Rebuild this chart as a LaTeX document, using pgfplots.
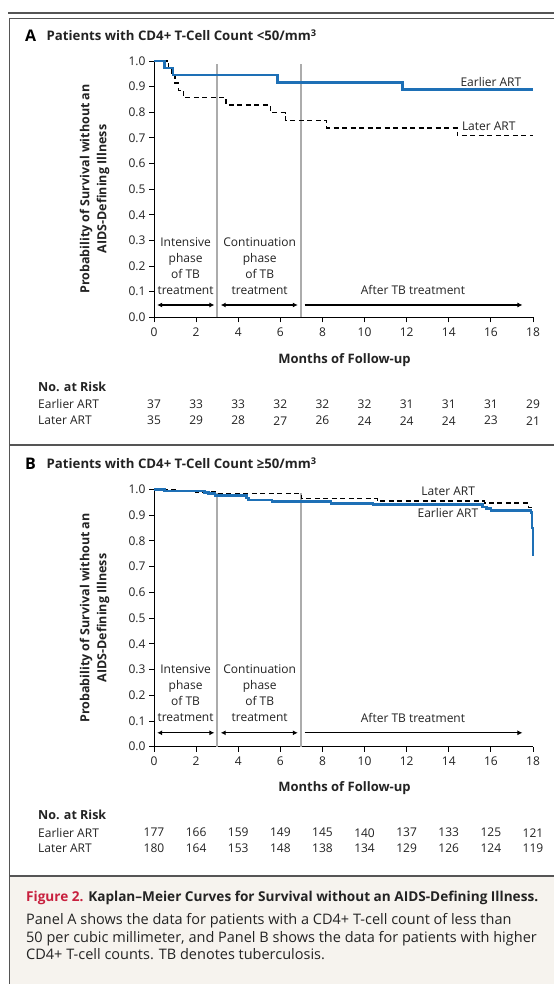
\documentclass[border=0pt]{standalone}
\usepackage{fontspec}
\setmainfont{Open Sans}
\usepackage{pgfplots}
\pgfplotsset{compat=1.18}
\usetikzlibrary{arrows.meta}

\definecolor{artblue}{RGB}{30,112,182}
\definecolor{phasegray}{RGB}{172,172,172}
\definecolor{framegray}{RGB}{85,85,85}
\definecolor{capbg}{RGB}{246,243,238}
\definecolor{capred}{RGB}{200,32,62}
\definecolor{txt}{RGB}{35,35,35}

\newcommand{\fs}[1]{\fontsize{#1}{#1}\selectfont}

\pgfplotsset{
  kmaxis/.style={
    scale only axis, width=379pt,
    xmin=0, xmax=18, ymin=0, ymax=1,
    axis lines=left, axis line style={-, line width=0.9pt},
    xtick={0,2,...,18}, ytick={0,0.1,0.2,0.3,0.4,0.5,0.6,0.7,0.8,0.9,1.0},
    tick align=outside, major tick length=5pt,
    tick style={line width=0.9pt, black},
    ticklabel style={font=\fs{12}, text=txt},
    x tick label style={yshift=-2pt},
    /pgf/number format/assume math mode=true,
    y tick label style={/pgf/number format/.cd, fixed, fixed zerofill, precision=1, /tikz/.cd},
    clip=false,
  },
  earlier/.style={const plot, color=artblue, line width=2.6pt, no marks},
  later/.style={const plot, color=black, line width=1.3pt, dash pattern=on 5pt off 3.5pt, no marks},
  phase/.style={color=phasegray, line width=2pt, no marks},
}
\tikzset{tip/.tip={Latex[length=5pt,width=5pt]}, arr/.style={line width=1.2pt, black}}

\begin{document}
\begin{tikzpicture}
% page and frame
\fill[white] (0,0) rectangle (554pt,-984pt);
\path[use as bounding box] (0,0) rectangle (554pt,-984pt);
\fill[capbg] (9pt,-876pt) rectangle (554pt,-984pt);
\draw[framegray, line width=1.8pt] (8pt,-13.3pt) -- (554pt,-13.3pt);
\draw[framegray, line width=0.8pt] (9pt,-18.3pt) -- (554pt,-18.3pt);
\draw[framegray, line width=1pt] (9pt,-18.3pt) -- (9pt,-984pt);
\draw[framegray, line width=1.5pt] (9pt,-445pt) -- (554pt,-445pt);
\draw[framegray, line width=1.5pt] (9pt,-876pt) -- (554pt,-876pt);

% ---------- Panel A ----------
\node[anchor=base west, inner sep=0, font=\bfseries\fs{16}, text=black] at (25pt,-41.5pt) {A};
\node[anchor=base west, inner sep=0, font=\bfseries\fs{13.2}, text=txt] at (46.5pt,-40.7pt) {Patients with CD4+ T-Cell Count <50/mm\textsuperscript{3}};
\node[rotate=90, align=center, font=\bfseries\fontsize{12.5}{17}\selectfont, text=txt] at (94.5pt,-189pt) {Probability of Survival without an\\AIDS-Defining Illness};

\begin{axis}[kmaxis, height=256.3pt, at={(154pt,-317.3pt)}, anchor=south west]
\addplot[phase] coordinates {(3,0) (3,0.99)};
\addplot[phase] coordinates {(7,0) (7,0.99)};
\addplot[later] coordinates {
  (0,1.0) (0.7,0.971) (0.85,0.943) (1.0,0.914) (1.15,0.886) (1.4,0.857)
  (3.42,0.828) (5.52,0.798) (6.25,0.769) (8.2,0.739) (14.4,0.709) (18,0.709)};
\addplot[earlier] coordinates {
  (0,1.0) (0.5,0.973) (0.9,0.946) (5.86,0.917) (11.8,0.888) (18,0.888)};
\node[font=\fs{12}, text=txt] at (axis cs:16.0,0.92) {Earlier ART};
\node[font=\fs{12}, text=txt] at (axis cs:15.9,0.745) {Later ART};
\node[align=center, font=\fontsize{12}{16}\selectfont, text=txt] at (axis cs:1.5,0.2) {Intensive\\phase\\of TB\\treatment};
\node[align=center, font=\fontsize{12}{16}\selectfont, text=txt] at (axis cs:5.02,0.2) {Continuation\\phase\\of TB\\treatment};
\node[font=\fs{12}, text=txt] at (axis cs:12.3,0.107) {After TB treatment};
\draw[arr, tip-tip] (axis cs:0.15,0.048) -- (axis cs:2.87,0.048);
\draw[arr, tip-tip] (axis cs:3.17,0.048) -- (axis cs:6.83,0.048);
\draw[arr, -tip] (axis cs:7.15,0.048) -- (axis cs:17.5,0.048);
\end{axis}

\node[font=\bfseries\fs{13}, text=txt] at (344.5pt,-360pt) {Months of Follow-up};
\node[anchor=west, inner sep=0, font=\bfseries\fs{12.5}, text=txt] at (38pt,-386.7pt) {No. at Risk};
\node[anchor=west, inner sep=0, font=\fs{12}, text=txt] at (38pt,-404.3pt) {Earlier ART};
\node[anchor=west, inner sep=0, font=\fs{12}, text=txt] at (38pt,-420.7pt) {Later ART};
\foreach \n [count=\i from 0] in {37,33,33,32,32,32,31,31,31,29}
  \node[font=\fs{12}, text=txt] at ({154pt+\i*42.11pt},-404.3pt) {\n};
\foreach \n [count=\i from 0] in {35,29,28,27,26,24,24,24,23,21}
  \node[font=\fs{12}, text=txt] at ({154pt+\i*42.11pt},-420.7pt) {\n};

% ---------- Panel B ----------
\node[anchor=base west, inner sep=0, font=\bfseries\fs{16}, text=black] at (25pt,-469.5pt) {B};
\node[anchor=base west, inner sep=0, font=\bfseries\fs{13.2}, text=txt] at (46.5pt,-468.7pt) {Patients with CD4+ T-Cell Count ≥50/mm\textsuperscript{3}};
\node[rotate=90, align=center, font=\bfseries\fontsize{12.5}{17}\selectfont, text=txt] at (94.5pt,-618pt) {Probability of Survival without an\\AIDS-Defining Illness};

\begin{axis}[kmaxis, height=257.4pt, at={(154pt,-746.7pt)}, anchor=south west]
\addplot[phase] coordinates {(3,0) (3,0.985)};
\addplot[phase] coordinates {(7,0) (7,0.985)};
\addplot[later] coordinates {
  (0,1.0) (1.0,0.994) (2.0,0.989) (3.0,0.984) (7.0,0.965) (10.6,0.955)
  (15.7,0.947) (17.8,0.93) (17.9,0.91) (18,0.91)};
\addplot[earlier] coordinates {
  (0,1.0) (0.5,0.994) (2.4,0.988) (2.6,0.983) (2.9,0.977) (4.4,0.966)
  (4.5,0.958) (5.6,0.952) (8.4,0.946) (10.4,0.940) (15.6,0.932)
  (15.8,0.925) (16.0,0.918) (17.9,0.91) (17.95,0.85) (18,0.74)};
\node[font=\fs{12}, text=txt] at (axis cs:13.97,0.991) {Later ART};
\node[font=\fs{12}, text=txt] at (axis cs:13.96,0.908) {Earlier ART};
\node[align=center, font=\fontsize{12}{16}\selectfont, text=txt] at (axis cs:1.5,0.208) {Intensive\\phase\\of TB\\treatment};
\node[align=center, font=\fontsize{12}{16}\selectfont, text=txt] at (axis cs:5.02,0.208) {Continuation\\phase\\of TB\\treatment};
\node[font=\fs{12}, text=txt] at (axis cs:12.3,0.11) {After TB treatment};
\draw[arr, tip-tip] (axis cs:0.15,0.054) -- (axis cs:2.87,0.054);
\draw[arr, tip-tip] (axis cs:3.17,0.054) -- (axis cs:6.83,0.054);
\draw[arr, -tip] (axis cs:7.15,0.054) -- (axis cs:17.5,0.054);
\end{axis}

\node[font=\bfseries\fs{13}, text=txt] at (344.5pt,-788.3pt) {Months of Follow-up};
\node[anchor=west, inner sep=0, font=\bfseries\fs{12.5}, text=txt] at (38pt,-815pt) {No. at Risk};
\node[anchor=west, inner sep=0, font=\fs{12}, text=txt] at (38pt,-832.7pt) {Earlier ART};
\node[anchor=west, inner sep=0, font=\fs{12}, text=txt] at (38pt,-848.3pt) {Later ART};
\foreach \n [count=\i from 0] in {177,166,159,149,145,140,137,133,125,121}
  \node[font=\fs{12}, text=txt] at ({154pt+\i*42.11pt},-832.7pt) {\n};
\foreach \n [count=\i from 0] in {180,164,153,148,138,134,129,126,124,119}
  \node[font=\fs{12}, text=txt] at ({154pt+\i*42.11pt},-848.3pt) {\n};

% ---------- Caption ----------
\node[anchor=base west, inner sep=0, font=\bfseries\fs{13.6}] at (26pt,-901pt) {\textcolor{capred}{Figure 2.} \textcolor{txt}{Kaplan–Meier Curves for Survival without an AIDS-Defining Illness.}};
\node[anchor=base west, inner sep=0, font=\fs{14.5}, text=txt] at (26pt,-924.5pt) {Panel A shows the data for patients with a CD4+ T-cell count of less than};
\node[anchor=base west, inner sep=0, font=\fs{14.5}, text=txt] at (26pt,-942pt) {50 per cubic millimeter, and Panel B shows the data for patients with higher};
\node[anchor=base west, inner sep=0, font=\fs{14.5}, text=txt] at (26pt,-959pt) {CD4+ T-cell counts. TB denotes tuberculosis.};
\end{tikzpicture}
\end{document}
